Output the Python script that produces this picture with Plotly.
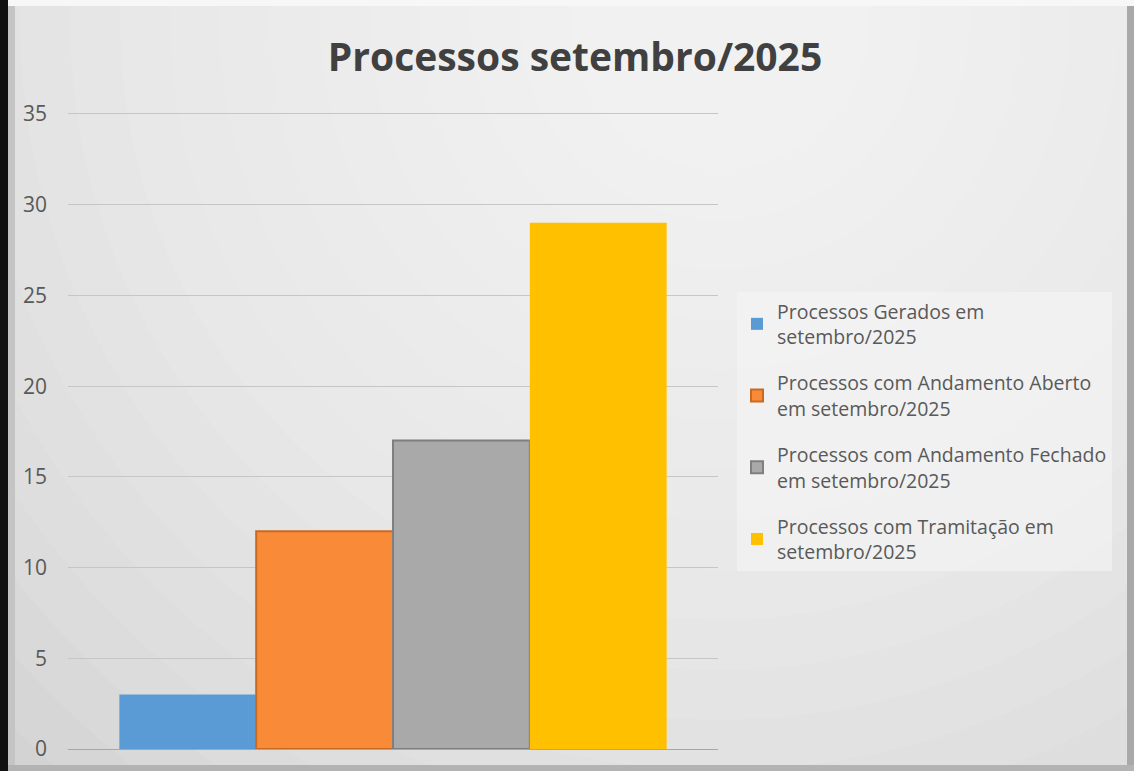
import plotly.graph_objects as go

W, H = 1134, 771

title_text = "Processos setembro/2025"
category = [""]
series_names = [
    "Processos Gerados em<br>setembro/2025",
    "Processos com Andamento Aberto<br>em setembro/2025",
    "Processos com Andamento Fechado<br>em setembro/2025",
    "Processos com Tramitação em<br>setembro/2025",
]
series_values = [3, 12, 17, 29]
series_colors = ["#5b9bd5", "#f98a37", "#a9a9a9", "#ffc000"]
series_edges = ["#5b9bd5", "#c96a22", "#7f7f7f", "#ffc000"]
y_ticks = [0, 5, 10, 15, 20, 25, 30, 35]

def px(x):
    return x / W

def py(y):
    return 1 - y / H

fig = go.Figure()
for i, (name, val) in enumerate(zip(series_names, series_values)):
    fig.add_trace(go.Bar(
        x=category, y=[val], name=name,
        marker=dict(color=series_colors[i],
                    line=dict(color=series_edges[i], width=2 if i in (1, 2) else 0)),
        legendgroup=f"g{i}",
    ))

shapes = []
# radial-ish glow background
cx, cy = 720, 20
for k in range(18):
    r = 1000 - k * 50
    shapes.append(dict(type="circle", xref="paper", yref="paper",
                       x0=px(cx - r), x1=px(cx + r), y0=py(cy + r), y1=py(cy - r),
                       fillcolor="white", opacity=0.08, line=dict(width=0), layer="below"))
# frame / bevel
shapes += [
    dict(type="rect", xref="paper", yref="paper", x0=px(0), x1=px(8), y0=0, y1=1,
         fillcolor="#111111", line=dict(width=0), layer="above"),
    dict(type="rect", xref="paper", yref="paper", x0=px(8), x1=px(15), y0=0, y1=py(4),
         fillcolor="#c4c4c4", line=dict(width=0), layer="below"),
    dict(type="rect", xref="paper", yref="paper", x0=px(1127), x1=1, y0=0, y1=py(6),
         fillcolor="#a9a9a9", line=dict(width=0), layer="below"),
    dict(type="rect", xref="paper", yref="paper", x0=px(8), x1=1, y0=0, y1=py(765),
         fillcolor="#b3b3b3", line=dict(width=0), layer="below"),
    dict(type="rect", xref="paper", yref="paper", x0=px(8), x1=1, y0=py(6), y1=1,
         fillcolor="#f7f7f7", line=dict(width=0), layer="below"),
]

unit = (749 - 114) / 35.0
y_top = 36

fig.update_layout(
    width=W, height=H,
    margin=dict(l=0, r=0, t=0, b=0),
    paper_bgcolor="#d3d3d3",
    plot_bgcolor="rgba(0,0,0,0)",
    font=dict(family="Open Sans", color="#595959"),
    title=dict(text=f"<b>{title_text}</b>", x=px(575), xanchor="center",
               y=py(57), yanchor="middle",
               font=dict(family="Open Sans", size=39, color="#404040")),
    barmode="group",
    bargap=0.158,
    bargroupgap=0,
    showlegend=True,
    legend=dict(x=px(737), y=py(292), xanchor="left", yanchor="top",
                bgcolor="rgba(245,245,245,0.55)", borderwidth=0,
                font=dict(size=19.5, color="#595959"),
                traceorder="grouped", tracegroupgap=18, itemwidth=30),
    shapes=shapes,
)
fig.update_xaxes(domain=[px(68), px(718)], showticklabels=False, showgrid=False,
                 showline=True, linecolor="#a6a6a6", linewidth=1, automargin=False,
                 fixedrange=True)
fig.update_yaxes(domain=[py(749), py(749 - y_top * unit)], range=[0, y_top], tickvals=y_ticks,
                 showgrid=True, gridcolor="#c6c6c6", gridwidth=1, zeroline=False,
                 showline=False, tickfont=dict(size=21, color="#595959"),
                 ticklabelstandoff=20, automargin=False)

fig.write_html("out.html", config={"displayModeBar": False},
               post_script="document.body.style.margin='0';document.body.style.overflow='hidden';")
